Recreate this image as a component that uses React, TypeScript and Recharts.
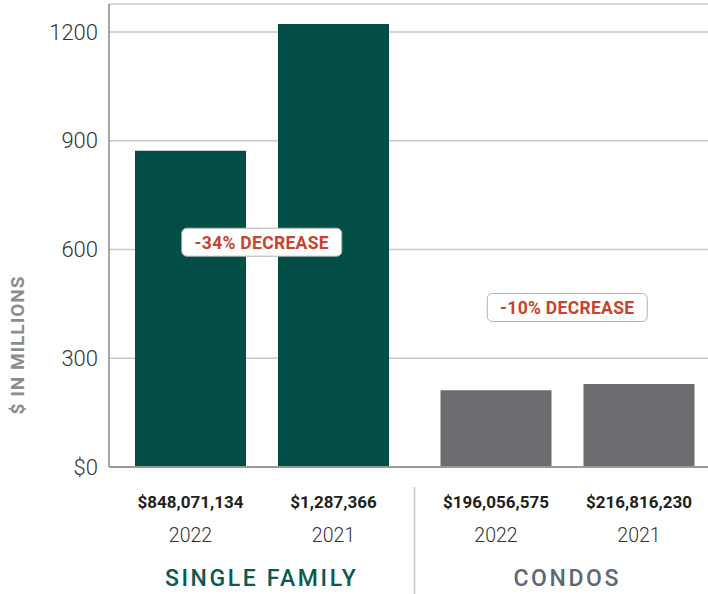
import {
  BarChart,
  Bar,
  Cell,
  XAxis,
  YAxis,
  CartesianGrid,
  LabelList,
  ReferenceDot,
} from "recharts";

const categories = ["SINGLE FAMILY", "CONDOS"];
const sales2022 = [872, 212];
const sales2021 = [1222, 229];
const amounts2022 = ["$848,071,134", "$196,056,575"];
const amounts2021 = ["$1,287,366", "$216,816,230"];
const changeLabels = ["-34% DECREASE", "-10% DECREASE"];
const changeLabelY = [620, 440];
const yTicks = [0, 300, 600, 900, 1200];

const barColors = ["#024d46", "#6b6c70"];
const groupTextColors = ["#0b5a50", "#5b6972"];
const FONT = "Roboto, 'Open Sans', sans-serif";

const data = categories.map((c, i) => ({
  category: c,
  y2022: sales2022[i],
  y2021: sales2021[i],
}));

function amountLabel(labels: string[], year: string) {
  return (props: any) => {
    const x = Number(props.x);
    const w = Number(props.width);
    const base = Number(props.y) + Number(props.height);
    const cx = x + w / 2;
    return (
      <g>
        <text x={cx} y={base + 35} textAnchor="middle" dominantBaseline="central"
          fontFamily={FONT} fontSize={17} fontWeight={700} fill="#231f20">
          {labels[props.index]}
        </text>
        <text x={cx} y={base + 68} textAnchor="middle" dominantBaseline="central"
          fontFamily={FONT} fontSize={19.5} fontWeight={300} fill="#333">
          {year}
        </text>
      </g>
    );
  };
}

function GroupTick(props: any) {
  const { x, payload } = props;
  const i = payload.index ?? categories.indexOf(payload.value);
  const half = payload.offset ?? 152.75;
  return (
    <g>
      <text x={x} y={578} textAnchor="middle" dominantBaseline="central"
        fontFamily={FONT} fontSize={23} fontWeight={500} letterSpacing={2.6}
        fill={groupTextColors[i]}>
        {payload.value}
      </text>
      {i === 1 && (
        <line x1={x - half} x2={x - half} y1={487} y2={594} stroke="#c8c8c8" strokeWidth={1.5} />
      )}
    </g>
  );
}

function ChangeBadge(text: string) {
  return (props: any) => {
    const { cx, cy } = props;
    return (
      <g>
        <rect x={cx - 80} y={cy - 14} width={160} height={28} rx={5}
          fill="#fff" stroke="#b3b3b3" strokeWidth={1} />
        <text x={cx} y={cy + 1} textAnchor="middle" dominantBaseline="central"
          fontFamily={FONT} fontSize={17.5} fontWeight={700} letterSpacing={0.3} fill="#c8442c">
          {text}
        </text>
      </g>
    );
  };
}

function YLabel() {
  return (
    <text x={17} y={345} transform="rotate(-90 17 345)" textAnchor="middle"
      dominantBaseline="central" fontFamily={FONT} fontSize={19} fontWeight={700}
      letterSpacing={1} fill="#8c8c8c">
      $ IN MILLIONS
    </text>
  );
}

export default function App() {
  return (
    <div style={{ position: "absolute", left: 0, top: 0, width: 708, height: 594, overflow: "hidden", background: "#fff" }}>
      <BarChart
        width={720}
        height={594}
        data={data}
        margin={{ top: 4, right: 0, left: 0, bottom: 0 }}
        barGap={32}
        barSize={111}
      >
        <CartesianGrid vertical={false} stroke="#c8c8c8" strokeWidth={1.5} />
        <XAxis
          dataKey="category"
          height={127}
          tickLine={false}
          axisLine={{ stroke: "#999", strokeWidth: 2 }}
          tick={<GroupTick />}
          interval={0}
        />
        <YAxis
          width={109}
          domain={[0, 1277]}
          ticks={yTicks}
          tickFormatter={(v) => (v === 0 ? "$0" : String(v))}
          tickLine={false}
          tickSize={6}
          tickMargin={5}
          axisLine={{ stroke: "#888", strokeWidth: 1.5 }}
          tick={{ fontFamily: FONT, fontSize: 22, fontWeight: 300, fill: "#333" }}
          label={{ content: <YLabel /> }}
        />
        <Bar dataKey="y2022" isAnimationActive={false}>
          {data.map((d, i) => (
            <Cell key={d.category} fill={barColors[i]} />
          ))}
          <LabelList dataKey="y2022" content={amountLabel(amounts2022, "2022")} />
        </Bar>
        <Bar dataKey="y2021" isAnimationActive={false}>
          {data.map((d, i) => (
            <Cell key={d.category} fill={barColors[i]} />
          ))}
          <LabelList dataKey="y2021" content={amountLabel(amounts2021, "2021")} />
        </Bar>
        {categories.map((c, i) => (
          <ReferenceDot key={c} x={c} y={changeLabelY[i]} r={0} shape={ChangeBadge(changeLabels[i])} />
        ))}
      </BarChart>
    </div>
  );
}
